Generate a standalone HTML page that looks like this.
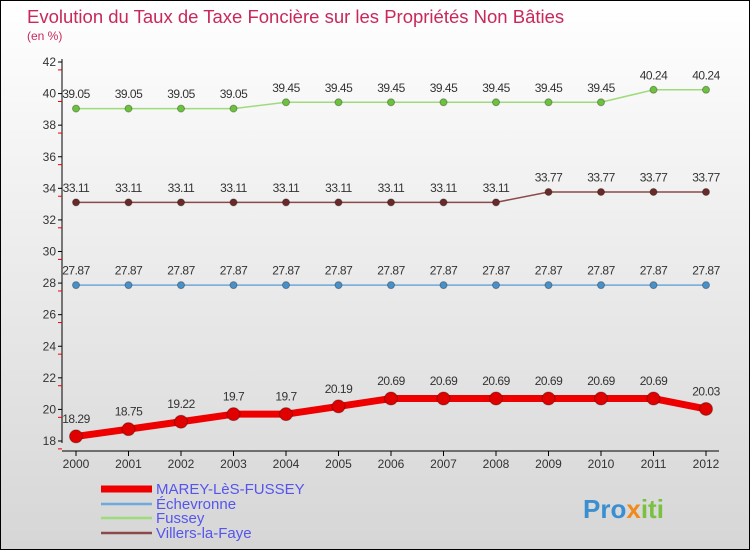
<!DOCTYPE html>
<html><head><meta charset="utf-8"><style>
html,body{margin:0;padding:0}
body{width:750px;height:550px;overflow:hidden;font-family:"Liberation Sans",sans-serif}
#wrap{position:relative;width:748px;height:548px;border:1px solid #000;background:linear-gradient(#ffffff,#d6d6d6)}
</style></head><body>
<div id="wrap">
<svg id="chart" width="748" height="548" style="position:absolute;left:0;top:0">
<text x="26" y="22" font-size="18.5" fill="#c8285a">Evolution du Taux de Taxe Foncière sur les Propriétés Non Bâties</text>
<text x="26" y="39" font-size="12" fill="#c8285a">(en %)</text>
<g id="axes"></g>
<g id="series"></g>
<g id="legend"></g>
<text x="582" y="517" font-size="26" font-weight="bold"><tspan fill="#3a8fd0">Pro</tspan><tspan fill="#f08a1c">x</tspan><tspan fill="#7ac142">iti</tspan></text>
</svg>
</div>
<script>
const years=[2000,2001,2002,2003,2004,2005,2006,2007,2008,2009,2010,2011,2012];
const yTicks=[18,20,22,24,26,28,30,32,34,36,38,40,42];
const marey=[18.29,18.75,19.22,19.7,19.7,20.19,20.69,20.69,20.69,20.69,20.69,20.69,20.03];
const echevronne=[27.87,27.87,27.87,27.87,27.87,27.87,27.87,27.87,27.87,27.87,27.87,27.87,27.87];
const fussey=[39.05,39.05,39.05,39.05,39.45,39.45,39.45,39.45,39.45,39.45,39.45,40.24,40.24];
const villers=[33.11,33.11,33.11,33.11,33.11,33.11,33.11,33.11,33.11,33.77,33.77,33.77,33.77];
const seriesNames=["MAREY-LèS-FUSSEY","Échevronne","Fussey","Villers-la-Faye"];
const NS="http://www.w3.org/2000/svg";
function xS(i){return 75+i*52.5;}
function yS(v){return 61+(42-v)*(379/24);}
function mk(tag,attrs,parent){const e=document.createElementNS(NS,tag);for(const k in attrs)e.setAttribute(k,attrs[k]);parent.appendChild(e);return e;}
const ax=document.getElementById('axes');
let l=mk('line',{x1:61,y1:58,x2:61,y2:442,stroke:'#000'},ax);


l=mk('line',{x1:61,y1:450,x2:718,y2:450,stroke:'#000'},ax);


yTicks.forEach(v=>{const y=yS(v);
 mk('line',{x1:57,y1:y,x2:61,y2:y,stroke:'#000'},ax);
 mk('line',{x1:57,y1:y+7.9,x2:61,y2:y+7.9,stroke:'#e00'},ax);
 const t=mk('text',{x:55,y:y+4,'font-size':12,fill:'#333','text-anchor':'end'},ax);
 t.textContent=v;
 
 });
years.forEach((yr,i)=>{const x=xS(i);
 mk('line',{x1:x,y1:450,x2:x,y2:455,stroke:'#000'},ax);
 const t=mk('text',{x:x,y:467,'font-size':12,fill:'#333','text-anchor':'middle'},ax);
 t.textContent=yr;
 
 });
const sg=document.getElementById('series');
function draw(data,color,dot,w,r,name){
 const g=mk('g',{},sg);
 
 
 mk('polyline',{points:data.map((v,i)=>xS(i)+','+yS(v)).join(' '),fill:'none',stroke:color,'stroke-width':w,'stroke-linejoin':'round'},g);
 data.forEach((v,i)=>{
  const c=mk('circle',{cx:xS(i),cy:yS(v),r:r,fill:dot,stroke:'rgba(0,0,0,0.3)','stroke-width':1},g);
  
  
  const t=mk('text',{x:xS(i),y:yS(v)-(r+7),'font-size':12,fill:'#333','text-anchor':'middle','letter-spacing':'-0.5'},g);
  t.textContent=v;
  
  });
}
draw(echevronne,'#6fa8dc','#4a90c8',1.5,3.5,'echevronne-series');
draw(villers,'#8b4a4a','#6b2a2a',1.5,3.5,'villers-series');
draw(fussey,'#9edb7a','#6cc23c',1.5,3.5,'fussey-series');
draw(marey,'#ee0000','#e00000',7,6.5,'marey-series');
const lg=document.getElementById('legend');
const lcol=['#ee0000','#6fa8dc','#9edb7a','#8b4a4a'];
const lw=[7,2.5,2.5,2.5];
const ly=[492,507,521,536];
seriesNames.forEach((n,i)=>{
 const ln=mk('line',{x1:100,y1:ly[i]-4,x2:151,y2:ly[i]-4,stroke:lcol[i],'stroke-width':lw[i]},lg);
 
 
 const t=mk('text',{x:155,y:ly[i]+1,'font-size':15,fill:'#5555ee'},lg);
 t.textContent=n;
 
 });
</script>
</body></html>
